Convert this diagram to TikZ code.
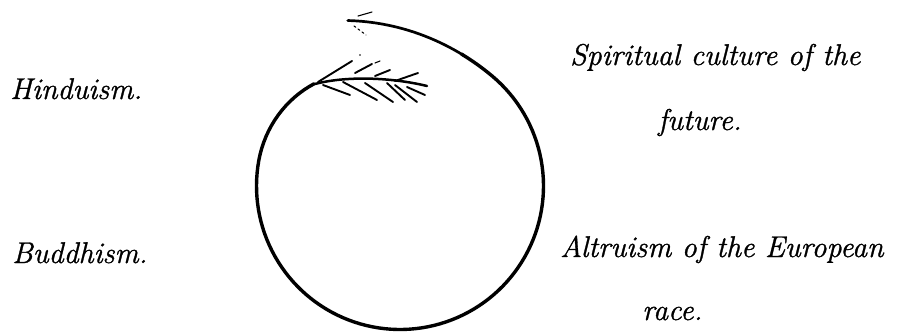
\documentclass[tikz,border=0pt]{standalone}
\usepackage{fontspec}
\setmainfont{Latin Modern Roman}[ItalicFeatures={FakeBold=1.0}]
\begin{document}
\begin{tikzpicture}[x=1pt,y=-1pt,
  declare function={rr(\t)=143.5-10*(max(0,(170-\t)/40))^2+30*(max(0,(\t-410)/57.5))^2;},
  lbl/.style={anchor=base west,inner sep=0pt,font=\fontsize{30}{33}\selectfont\itshape},
  spiral/.style={line width=3.4pt,line cap=round,line join=round},
  barb/.style={line width=1.9pt,line cap=round},
  fine/.style={line width=1.1pt,line cap=round}]
\useasboundingbox (0,0) rectangle (901,332);
% labels
\node[lbl] (hin) at (10,99) {Hinduism.};
\node[lbl] (bud) at (12,263) {Buddhism.};
\node[lbl] (spi) at (570,65) {Spiritual culture of the};
\node[lbl] (fut) at (658,130) {future.};
\node[lbl] (alt) at (560,257) {Altruism of the European};
\node[lbl] (rac) at (642,320) {race.};
% spiral
\coordinate (ctr) at (400,186);
\draw[spiral] plot[domain=130:425,samples=120,variable=\t]
  ({400+rr(\t)*cos(\t)},{186-rr(\t)*sin(\t)});
\draw[spiral,line width=2.7pt] plot[domain=424:467.5,samples=30,variable=\t]
  ({400+rr(\t)*cos(\t)},{186-rr(\t)*sin(\t)});
% arrow tip barbs
\draw[fine] (358,16) -- (372,12);
\draw[fine,dash pattern=on 2pt off 3pt] (354,26) -- (366,35);
% feather spine
\draw[barb,line width=2.5pt] (315,84) .. controls (345,76) and (390,77) .. (427,86);
% upper barbs
\draw[barb] (318,82) -- (352,61);
\draw[barb] (355,73) -- (372,64);
\draw[fine] (375,63) -- (380,61);
\draw[barb] (375,76) -- (390,70);
\draw[barb] (395,81) -- (418,73);
\fill (360,55) circle (0.9);
% lower barbs
\draw[barb] (323,85) -- (350,95);
\draw[barb] (343,82) -- (377,100);
\draw[barb] (365,83) -- (393,102);
\draw[barb] (387,83) -- (405,100);
\draw[barb] (395,85) -- (417,102);
\draw[barb] (407,87) -- (425,95);
\end{tikzpicture}
\end{document}
